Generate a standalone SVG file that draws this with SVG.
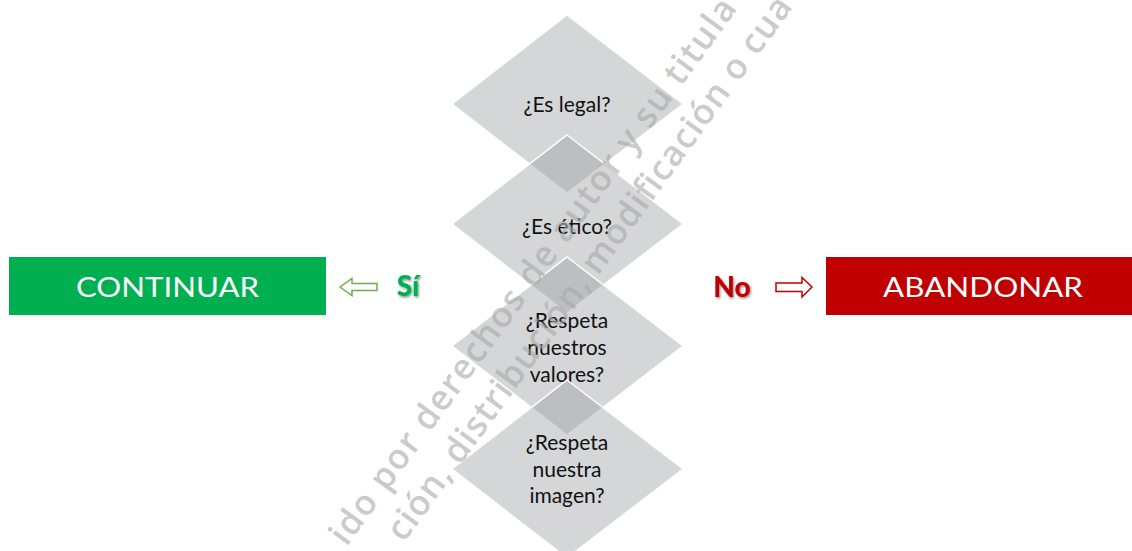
<svg xmlns="http://www.w3.org/2000/svg" width="1132" height="551" viewBox="0 0 1132 551">
<defs>
<style>
.dia{fill:#9fa3a8;fill-opacity:0.45;stroke:#ffffff;stroke-width:1.5}
.q{font-family:Lato,"Liberation Sans",sans-serif;font-size:21px;fill:#111111;text-anchor:middle}
.box{font-family:Lato,"Liberation Sans",sans-serif;font-size:27px;fill:#ffffff;text-anchor:middle}
.lbl{font-family:Lato,"Liberation Sans",sans-serif;font-size:28px;font-weight:900;text-anchor:middle}
.wm{font-family:"Open Sans","DejaVu Sans",sans-serif;font-size:35px;font-weight:600;fill:#a8a8a8;fill-opacity:0.6}
</style>
<filter id="sh" x="-20%" y="-20%" width="150%" height="150%">
<feDropShadow dx="1.2" dy="1.5" stdDeviation="1" flood-color="#000000" flood-opacity="0.45"/>
</filter>
</defs>
<rect width="1132" height="551" fill="#ffffff"/>
<g id="q1">
<polygon class="dia" points="567,15 683,104 567,193 452,104"/>
<text class="q" x="567" y="112">¿Es legal?</text>
</g>
<g id="q2">
<polygon class="dia" points="567,135 683,224 567,313 452,224"/>
<text class="q" x="567" y="234">¿Es ético?</text>
</g>
<g id="q3">
<polygon class="dia" points="567,257 683,346 567,435 452,346"/>
<text class="q" x="567" y="328">¿Respeta</text>
<text class="q" x="567" y="355">nuestros</text>
<text class="q" x="567" y="382">valores?</text>
</g>
<g id="q4">
<polygon class="dia" points="567,380 683,469 567,558 452,469"/>
<text class="q" x="567" y="450">¿Respeta</text>
<text class="q" x="567" y="477">nuestra</text>
<text class="q" x="567" y="503">imagen?</text>
</g>
<g id="continuar">
<rect x="9" y="257" width="317" height="58" fill="#00b050"/>
<text class="box" x="167.5" y="297" textLength="183" lengthAdjust="spacingAndGlyphs">CONTINUAR</text>
</g>
<g id="abandonar">
<rect x="826" y="257" width="306" height="58" fill="#c00000"/>
<text class="box" x="983" y="297" textLength="200" lengthAdjust="spacingAndGlyphs">ABANDONAR</text>
</g>
<g id="si">
<text class="lbl" x="408" y="296" fill="#00b050" filter="url(#sh)">Sí</text>
</g>
<g id="no">
<text class="lbl" x="732" y="297" fill="#c00000" filter="url(#sh)">No</text>
</g>
<g id="connectors" stroke-width="1.5" stroke-linejoin="miter">
<polygon points="340,287 352,278.5 352,283.5 377,283.5 377,290.5 352,290.5 352,295.5" fill="#ffffff" stroke="#70ad47"/>
<polygon points="812,287 802,277.5 802,283 776,283 776,291.5 802,291.5 802,297" fill="#ffffff" stroke="#c00000"/>
</g>
<g id="watermark" transform="translate(370,515) rotate(-54)">
<text class="wm" x="-40" y="0" textLength="666" lengthAdjust="spacing">ido por derechos de autor y su titula</text>
<text class="wm" x="-3" y="44" textLength="663" lengthAdjust="spacing">ción, distribución, modificación o cua</text>
</g>
</svg>
